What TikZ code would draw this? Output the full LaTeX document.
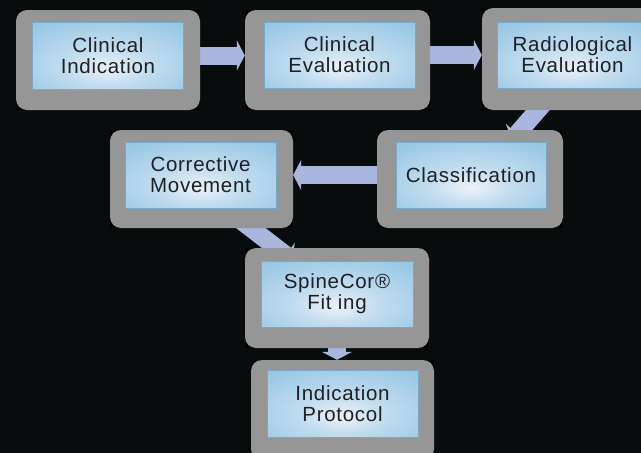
\documentclass[tikz,border=0pt]{standalone}
\usepackage{fontspec}
\setmainfont{Liberation Sans}
\usetikzlibrary{arrows.meta,calc}
\pgfdeclarelayer{bg}
\pgfdeclarelayer{arr}
\pgfsetlayers{bg,arr,main}
\definecolor{bgc}{HTML}{080C0C}
\definecolor{outerc}{HTML}{969696}
\definecolor{arrc}{HTML}{A9B6DE}
\definecolor{txtc}{HTML}{1E2024}
\definecolor{edgec}{HTML}{78A8CA}
\definecolor{sA}{HTML}{EDF1F7}
\definecolor{sB}{HTML}{C2DDEF}
\definecolor{sC}{HTML}{98C7E5}
\definecolor{sD}{HTML}{88BCDF}
\pgfdeclareradialshading{boxshade}{\pgfpoint{0bp}{-10bp}}{color(0bp)=(sA); color(14bp)=(sB); color(36bp)=(sC); color(72bp)=(sD)}
\tikzset{
  outerbox/.style={fill=outerc, rounded corners=11pt, inner sep=0pt, minimum width=184pt, minimum height=100pt},
  innerbox/.style={shade, shading=boxshade, draw=edgec, line width=0.8pt, text=txtc, inner sep=0pt,
    minimum width=151pt, minimum height=66pt, align=center,
    font=\fontsize{20.5}{20.8}\selectfont\addfontfeature{LetterSpace=3.5}},
  bigarrow/.style={draw=arrc, line width=18pt, -{Triangle[length=8pt,width=30pt]}},
}
\begin{document}
\begin{tikzpicture}[x=1pt,y=-1pt]
\useasboundingbox (0,0) rectangle (641,453);
\begin{pgfonlayer}{bg}
\fill[bgc] (0,0) rectangle (641,453);
\end{pgfonlayer}
% outer boxes
\node[outerbox] (o1) at (108,60) {};
\node[outerbox, minimum width=185pt] (o2) at (337.5,60) {};
\node[outerbox, minimum height=102pt] (o3) at (574,59) {};
\node[outerbox, minimum width=183pt, minimum height=98pt] (o4) at (201.5,179) {};
\node[outerbox, minimum width=186pt, minimum height=98pt] (o5) at (470,179) {};
\node[outerbox] (o6) at (337,298) {};
\node[outerbox, minimum width=183pt] (o7) at (342.5,410) {};
% inner boxes
\node[innerbox, minimum height=67pt] (i1) at (108,55.5) {Clinical\\Indication};
\node[innerbox] (i2) at (339.5,55) {Clinical\\Evaluation};
\node[innerbox] (i3) at (572.5,55) {Radiological\\Evaluation};
\node[innerbox] (i4) at (200.5,175) {Corrective\\Movement};
\node[innerbox, minimum width=150pt] (i5) at (471,175) {Classification};
\node[innerbox, minimum width=152pt] (i6) at (337,294) {SpineCor\textregistered\\Fit ing};
\node[innerbox, minimum height=67pt] (i7) at (342.5,403.5) {Indication\\Protocol};
% black frames behind outer boxes
\begin{pgfonlayer}{bg}
\foreach \n in {o1,o2,o3,o4,o5,o6,o7}
  \fill[black] (\n.south west) rectangle (\n.north east);
\end{pgfonlayer}
% arrows
\begin{pgfonlayer}{arr}
\draw[bigarrow] (i1.east) -- (i1.east -| o2.west);
\draw[bigarrow] (i2.east) -- (i2.east -| o3.west);
\draw[bigarrow] ($(o3.south)+(-19,-20)$) -- ($(o5.north)+(42,10)$);
\draw[bigarrow] (i5.west) -- (i5.west -| o4.east);
\draw[bigarrow] ($(o4.south)+(30,-15)$) -- ($(o6.north)+(-45,12)$);
\draw[bigarrow] (i6.south) -- (i6.south |- o7.north);
\end{pgfonlayer}
\end{tikzpicture}
\end{document}
